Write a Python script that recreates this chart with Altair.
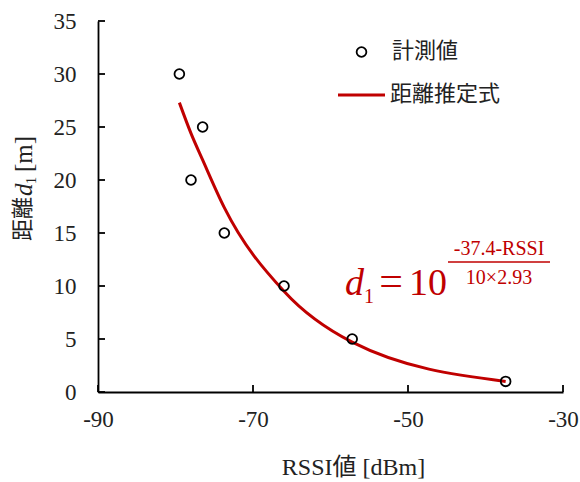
import altair as alt
import pandas as pd

# measured points
rssi = [-79.5, -78.0, -76.5, -73.7, -66.0, -57.2, -37.4]
dist = [30, 20, 25, 15, 10, 5, 1]

# estimated curve
curve_rssi = [-79.5, -78.0, -76.5, -73.7, -66.0, -57.2, -37.4]
curve_dist = [27.3, 24.4, 21.9, 17.4, 9.5, 4.7, 1.0]

x_ticks = [-90, -70, -50, -30]
y_ticks = [0, 5, 10, 15, 20, 25, 30, 35]

W, H = 465, 371
SERIF = "Liberation Serif, Noto Sans CJK JP"
CJK = "Noto Sans CJK JP"
RED = "#C00000"

pts = pd.DataFrame({"rssi": rssi, "dist": dist})
crv = pd.DataFrame({"rssi": curve_rssi, "dist": curve_dist})
xt = pd.DataFrame({"v": x_ticks})
yt = pd.DataFrame({"v": y_ticks})

xs = alt.Scale(domain=[-90, -30], nice=False, zero=False)
ys = alt.Scale(domain=[0, 35], nice=False)

xaxis = alt.Axis(values=x_ticks, title="RSSI値 [dBm]", labelFont=SERIF, labelFontSize=23,
                 labelPadding=16, labelFlush=False, labelExpr="toString(datum.value)",
                 titleFont=SERIF, titleFontSize=24, titleFontWeight="normal",
                 titleX=255, titleY=75, titleBaseline="middle", titleColor="#222",
                 labelColor="#222", ticks=False, domainColor="black", domainWidth=1.8, grid=False)
yaxis = alt.Axis(values=y_ticks, title=None, labelFont=SERIF, labelFontSize=23,
                 labelPadding=22, labelColor="#222", ticks=False, domainColor="black",
                 domainWidth=1.8, grid=False)

line = alt.Chart(crv).mark_line(color=RED, strokeWidth=3, interpolate="monotone").encode(
    x=alt.X("rssi:Q", scale=xs, axis=xaxis),
    y=alt.Y("dist:Q", scale=ys, axis=yaxis),
)
points = alt.Chart(pts).mark_point(shape="circle", filled=False, color="black",
                                   strokeWidth=1.8, size=95, opacity=1).encode(
    x=alt.X("rssi:Q", scale=xs),
    y=alt.Y("dist:Q", scale=ys),
)
ytick = alt.Chart(yt).mark_rule(color="black", strokeWidth=1.8).encode(
    y=alt.Y("v:Q", scale=ys), x=alt.value(0), x2=alt.value(7))
xtick = alt.Chart(xt).mark_rule(color="black", strokeWidth=1.8).encode(
    x=alt.X("v:Q", scale=xs), y=alt.value(H), y2=alt.value(H - 7))

def txt(text, x, y, font, size, color="#222", align="left", baseline="alphabetic",
        style="normal", angle=0):
    kw = dict(text=text, font=font, fontSize=size, color=color, align=align,
              baseline=baseline, fontStyle=style)
    if angle:
        kw["angle"] = angle
    return alt.Chart(pd.DataFrame({"a": [0]})).mark_text(**kw).encode(
        x=alt.value(x), y=alt.value(y))

# legend
leg_pt = alt.Chart(pd.DataFrame({"a": [0]})).mark_point(
    shape="circle", filled=False, color="black", strokeWidth=1.8, size=95, opacity=1
).encode(x=alt.value(263.5), y=alt.value(31))
leg_ln = alt.Chart(pd.DataFrame({"a": [0]})).mark_rule(color=RED, strokeWidth=3).encode(
    x=alt.value(240), x2=alt.value(287), y=alt.value(74))
leg_t1 = txt("計測値", 294, 30, CJK, 22, baseline="middle")
leg_t2 = txt("距離推定式", 292, 73, CJK, 22, baseline="middle")

# formula
f_d = txt("d", 247, 274, "Liberation Serif", 38, RED, style="italic")
f_1 = txt("1", 266, 282, "Liberation Serif", 20, RED)
f_eq = txt("=", 293, 274, "Liberation Serif", 42, RED, align="center")
f_10 = txt("10", 311, 274, "Liberation Serif", 38, RED)
f_num = txt("-37.4-RSSI", 401, 228, "Liberation Serif", 20, RED, align="center", baseline="middle")
f_den = txt("10×2.93", 401, 257, "Liberation Serif", 20, RED, align="center", baseline="middle")
f_bar = alt.Chart(pd.DataFrame({"a": [0]})).mark_rule(color=RED, strokeWidth=1.5).encode(
    x=alt.value(350), x2=alt.value(452), y=alt.value(241))

# y title pieces (rotated)
yt1 = txt("距離", -68, 220, CJK, 22, angle=270)
yt2 = txt("d", -66, 175, "Liberation Serif", 25, style="italic", angle=270)
yt3 = txt("1", -62, 163, "Liberation Serif", 14, angle=270)
yt4 = txt("[m]", -66, 151, "Liberation Serif", 25, angle=270)

chart = alt.layer(
    line, points, ytick, xtick, leg_pt, leg_ln, leg_t1, leg_t2,
    f_d, f_1, f_eq, f_10, f_num, f_den, f_bar, yt1, yt2, yt3, yt4
).properties(
    width=W, height=H,
    autosize=alt.AutoSizeParams(type="none"),
    padding={"left": 98, "top": 21, "right": 17, "bottom": 90},
    background="white",
).configure_view(stroke=None)

chart.save("out.html", embed_options={"renderer": "svg", "actions": False})
